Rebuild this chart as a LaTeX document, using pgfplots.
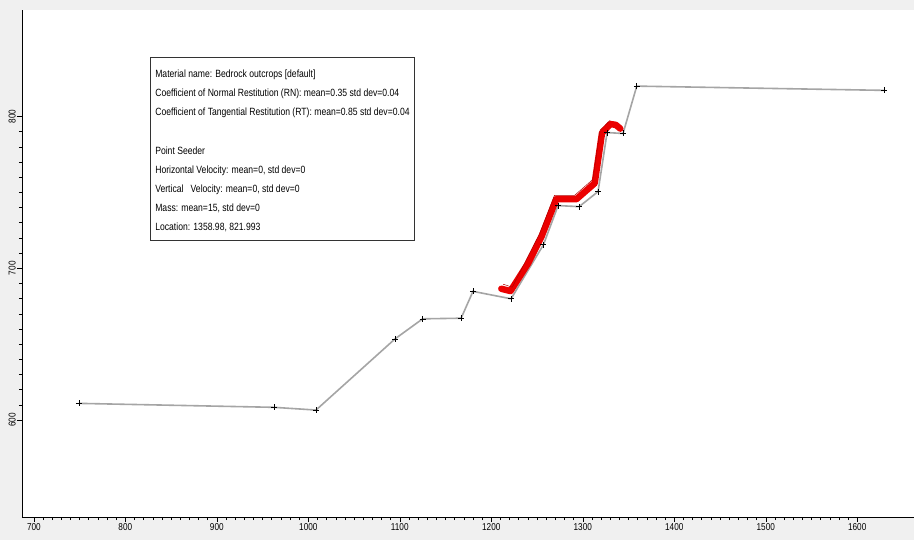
\documentclass[border=0pt]{standalone}
\usepackage{pgfplots}
\pgfplotsset{compat=1.18}
\usepackage{fontspec}
\setmainfont{Liberation Sans}
\newfontfamily\narrow[FakeStretch=0.82]{Liberation Sans}
\definecolor{bggray}{RGB}{240,240,240}
\definecolor{slopegray}{RGB}{165,165,165}
\definecolor{rockred}{RGB}{235,0,0}
\begin{document}
\begin{tikzpicture}[x=1pt,y=1pt]
\fill[bggray] (0,0) rectangle (914,540);
\begin{axis}[
  at={(24,15)}, anchor=south west,
  scale only axis, width=892pt, height=507pt,
  xmin=687, xmax=1662, ymin=536, ymax=870,
  axis x line*=bottom, axis y line*=left,
  axis line style={black, line width=0.8pt},
  axis background/.style={fill=white},
  xtick={700,800,...,1600},
  ytick={600,700,800},
  minor x tick num=9, minor y tick num=9,
  tick align=outside,
  major tick length=5pt, minor tick length=3pt,
  tick style={black, line width=0.5pt},
  xticklabel style={font=\narrow\fontsize{10}{11}\selectfont, inner sep=1pt},
  yticklabel style={font=\narrow\fontsize{10}{11}\selectfont, rotate=90, anchor=south, inner sep=1pt},
  /pgf/number format/assume math mode=true,
  /pgf/number format/set thousands separator={},
  clip=false,
]
\addplot[slopegray, line width=1.6pt, mark=+, mark size=3pt,
  mark options={black, line width=0.6pt}] coordinates {
  (749.2,611.0) (962.4,608.4) (1008.4,606.6) (1094.8,653.5) (1125.0,666.7)
  (1167.0,667.1) (1180.0,684.8) (1221.6,679.9) (1257.0,715.5) (1273.0,741.3)
  (1296.0,740.6) (1316.7,750.5) (1326.6,789.4) (1344.0,788.8) (1359.0,820.0)
  (1629.5,817.2)
};
\addplot[rockred, line width=6.5pt, line join=round, line cap=round] coordinates {
  (1211,686.5) (1221,685) (1240,703) (1255,721) (1271,745.5)
  (1293,745.5) (1313,756) (1321,789) (1330,795) (1336,794.5) (1341,792)
};
\addplot[rockred!75!black, line width=0.5pt] coordinates {
  (1213,689.5) (1223,687.5) (1253,723) (1269,748) (1291,748) (1311,758.5) (1319,791) (1330,797.5)
};
\node[draw=black!80, line width=0.7pt, fill=white, anchor=north west,
  inner xsep=5pt, inner ysep=6pt, align=left,
  font=\narrow\fontsize{10.5}{19}\selectfont]
  at (rel axis cs:0.1435,0.907) {%
  \rule{0pt}{14pt}Material name: Bedrock outcrops [default]\\
  Coefficient of Normal Restitution (RN): mean=0.35 std dev=0.04\\
  Coefficient of Tangential Restitution (RT): mean=0.85 std dev=0.04\\[20pt]
  Point Seeder\\
  Horizontal Velocity: mean=0, std dev=0\\
  Vertical\ \ \ Velocity: mean=0, std dev=0\\
  Mass: mean=15, std dev=0\\
  \rule[-4pt]{0pt}{0pt}Location: 1358.98, 821.993};
\end{axis}
\pgfresetboundingbox
\useasboundingbox (0,0) rectangle (914,540);
\end{tikzpicture}
\end{document}
